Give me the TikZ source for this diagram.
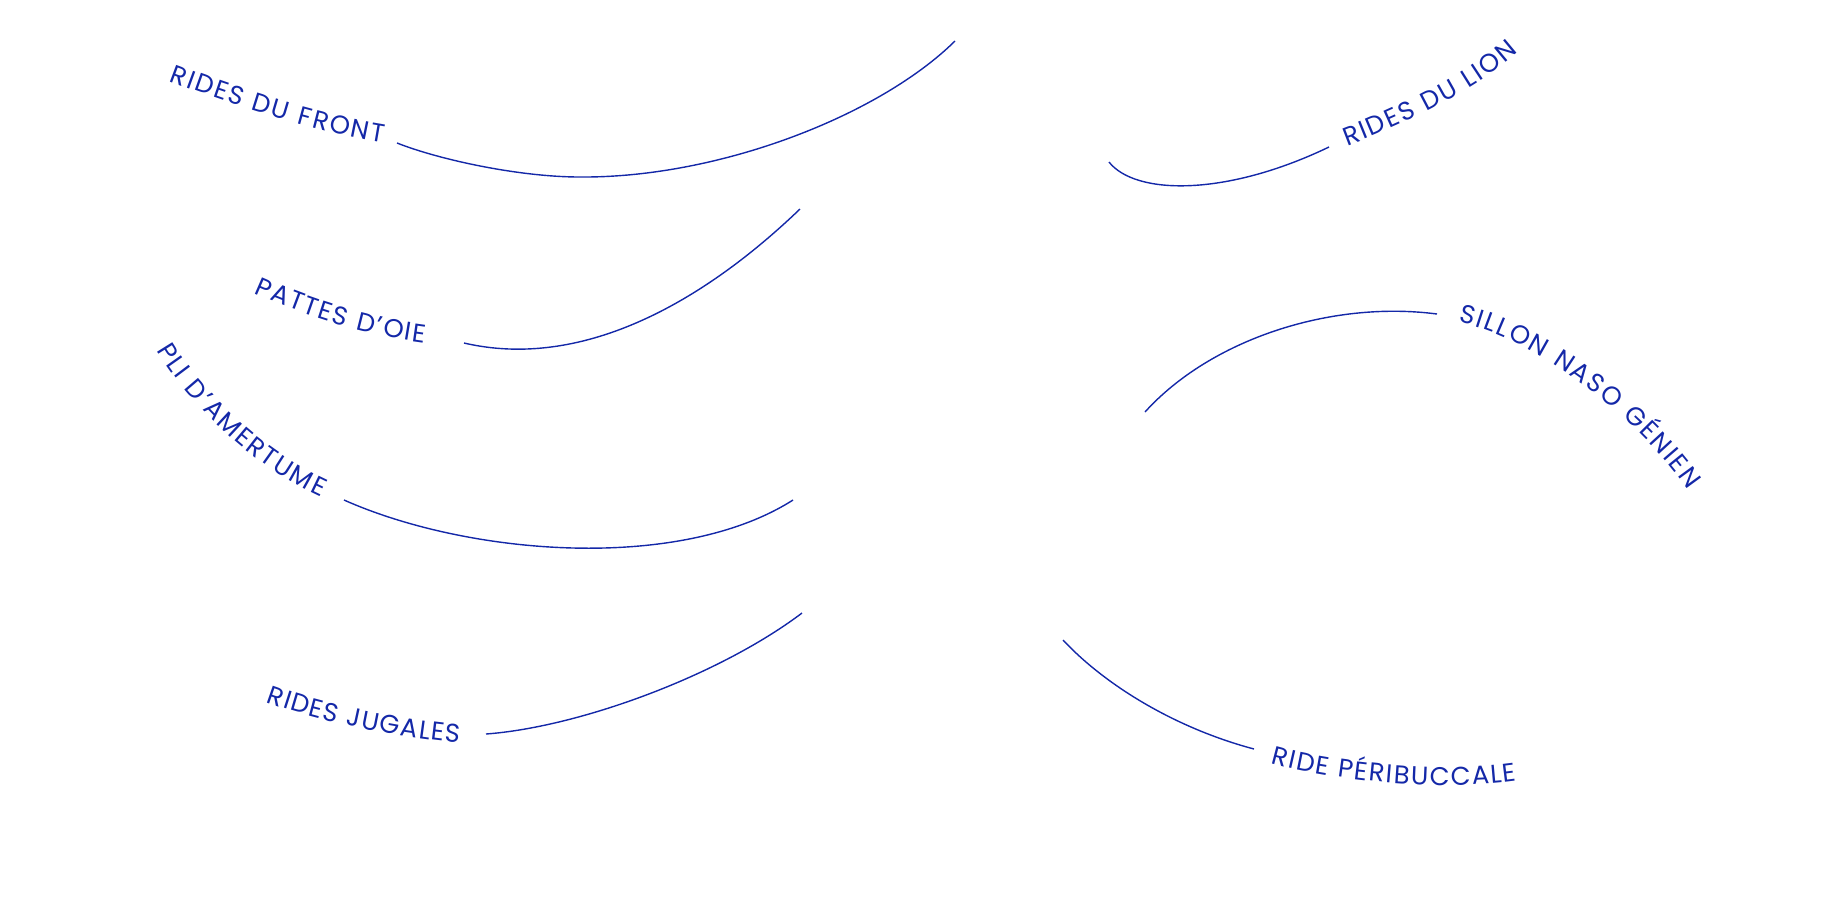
\documentclass[tikz,border=0pt]{standalone}
\usepackage{fontspec}
\setmainfont{Poppins}
\newfontfamily\lblfont{Poppins}
\usetikzlibrary{decorations.text}
\definecolor{inkblue}{HTML}{1428A8}
\tikzset{
  wrinkle/.style={draw=inkblue, line width=0.7pt},
  tagline/.style={decorate, decoration={text along path, text color=inkblue,
      text={|\lblfont\fontsize{12.9}{14}\selectfont|#1}, text align=fit to path}},
}
\begin{document}
\begin{tikzpicture}[x=0.5pt, y=-0.5pt]
  \useasboundingbox (0,0) rectangle (1836,918);
  % left side
  \coordinate (front-t) at (169,81);   \coordinate (front-a) at (397,143);  \coordinate (front-b) at (955,41);
  \coordinate (oie-t) at (254,293);    \coordinate (oie-a) at (464,343);    \coordinate (oie-b) at (800,209);
  \coordinate (pli-t) at (157,350);    \coordinate (pli-a) at (344,500);    \coordinate (pli-b) at (793,500);
  \coordinate (jugal-t) at (266,702);  \coordinate (jugal-a) at (486,734);  \coordinate (jugal-b) at (802,613);
  % right side
  \coordinate (lion-a) at (1109,162);  \coordinate (lion-b) at (1329,147);  \coordinate (lion-t) at (1347,146);
  \coordinate (naso-a) at (1145,412);  \coordinate (naso-b) at (1437,314);  \coordinate (naso-t) at (1458,322);
  \coordinate (bucc-a) at (1063,640);  \coordinate (bucc-b) at (1254,749);  \coordinate (bucc-t) at (1271,763);

  \path[tagline=RIDES DU FRONT] (front-t) .. controls (240,108) and (320,133) .. (383,143);
  \draw[wrinkle] (front-a) .. controls (440,160) and (520,177) .. (580,177)
    .. controls (720,178) and (880,115) .. (front-b);

  \path[tagline=PATTES D’OIE] (oie-t) .. controls (310,318) and (370,336) .. (425,343);
  \draw[wrinkle] (oie-a) .. controls (580,370) and (700,305) .. (oie-b);

  \path[tagline=PLI D’AMERTUME] (pli-t) .. controls (180,390) and (240,460) .. (321,497);
  \draw[wrinkle] (pli-a) .. controls (470,556) and (680,572) .. (pli-b);

  \path[tagline=RIDES JUGALES] (jugal-t) .. controls (320,722) and (400,738) .. (460,743);
  \draw[wrinkle] (jugal-a) .. controls (580,727) and (720,675) .. (jugal-b);

  \draw[wrinkle] (lion-a) .. controls (1135,195) and (1225,197) .. (lion-b);
  \path[tagline=RIDES DU LION] (lion-t) .. controls (1390,130) and (1470,95) .. (1518,52);

  \draw[wrinkle] (naso-a) .. controls (1210,340) and (1330,300) .. (naso-b);
  \path[tagline=SILLON NASO GÉNIEN] (naso-t) .. controls (1540,340) and (1640,420) .. (1688,490);

  \draw[wrinkle] (bucc-a) .. controls (1105,685) and (1175,728) .. (bucc-b);
  \path[tagline=RIDE PÉRIBUCCALE] (bucc-t) .. controls (1330,780) and (1440,792) .. (1517,781);
\end{tikzpicture}
\end{document}
